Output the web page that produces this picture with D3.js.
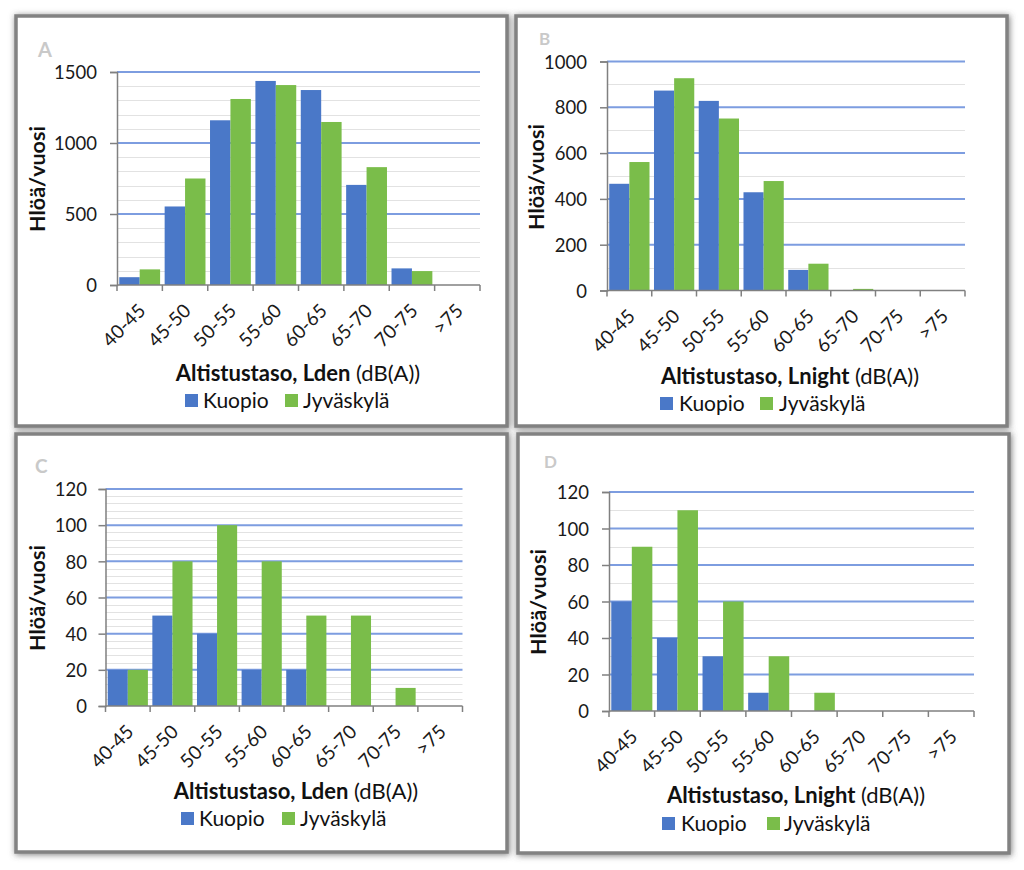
<!DOCTYPE html>
<html>
<head>
<meta charset="utf-8">
<script src="https://cdn.jsdelivr.net/npm/d3@7"></script>
<style>
  html, body { margin: 0; padding: 0; background: #ffffff; }
  svg { display: block; font-family: Lato, "Open Sans", sans-serif; }
</style>
</head>
<body>
<svg id="chart" width="1024" height="870"></svg>
<script>
// ---- data ----
const categories = ["40-45", "45-50", "50-55", "55-60", "60-65", "65-70", "70-75", ">75"];
const seriesNames = ["Kuopio", "Jyväskylä"];

const kuopioA    = [55, 553, 1160, 1437, 1373, 705, 117, 0];
const jyvaskylaA = [110, 750, 1310, 1408, 1148, 830, 98, 0];
const kuopioB    = [466, 873, 828, 429, 90, 0, 0, 0];
const jyvaskylaB = [561, 927, 751, 478, 117, 7, 0, 0];
const kuopioC    = [20, 50, 40, 20, 20, 0, 0, 0];
const jyvaskylaC = [20, 80, 100, 80, 50, 50, 10, 0];
const kuopioD    = [60, 40, 30, 10, 0, 0, 0, 0];
const jyvaskylaD = [90, 110, 60, 30, 10, 0, 0, 0];

const yTicksA = [0, 500, 1000, 1500];
const yTicksB = [0, 200, 400, 600, 800, 1000];
const yTicksC = [0, 20, 40, 60, 80, 100, 120];
const yTicksD = [0, 20, 40, 60, 80, 100, 120];
const minorStepA = 100, minorStepB = 100, minorStepC = 4, minorStepD = 10;

const panelLetters = ["A", "B", "C", "D"];
const xTitleBold = ["Altistustaso, Lden", "Altistustaso, Lnight", "Altistustaso, Lden", "Altistustaso, Lnight"];
const xTitleUnit = " (dB(A))";
const yTitle = "Hlöä/vuosi";

// ---- layout (positions/styles only) ----
const colors = ["#4a78c8", "#7abd4a"];
const panels = [
  { letter: 0, k: kuopioA, j: jyvaskylaA, ticks: yTicksA, minor: minorStepA,
    frame: [16, 16, 491, 410], x0: 117, x1: 480, yTop: 72, yBot: 285,
    letterPos: [38, 57], letterSize: 20, yLabelX: 97, yTitlePos: [38, 179],
    xTitlePos: [298, 381], legendY: 400, legendX: [185, 203, 285, 303] },
  { letter: 1, k: kuopioB, j: jyvaskylaB, ticks: yTicksB, minor: minorStepB,
    frame: [516, 16, 491, 410], x0: 607, x1: 965, yTop: 61.5, yBot: 290.5,
    letterPos: [539, 45], letterSize: 17, yLabelX: 587, yTitlePos: [537, 177],
    xTitlePos: [790, 384], legendY: 403, legendX: [660, 679, 760, 779] },
  { letter: 2, k: kuopioC, j: jyvaskylaC, ticks: yTicksC, minor: minorStepC,
    frame: [16, 434, 491, 418], x0: 105.5, x1: 462.5, yTop: 489, yBot: 706,
    letterPos: [35, 473], letterSize: 19, yLabelX: 87, yTitlePos: [38, 598],
    xTitlePos: [296, 799], legendY: 818, legendX: [181, 199, 282, 300] },
  { letter: 3, k: kuopioD, j: jyvaskylaD, ticks: yTicksD, minor: minorStepD,
    frame: [518, 434, 491, 419], x0: 609, x1: 974, yTop: 492, yBot: 711,
    letterPos: [544, 468], letterSize: 17, yLabelX: 589, yTitlePos: [539, 602],
    xTitlePos: [796, 803], legendY: 823, legendX: [662, 681, 767, 784] }
];

const svg = d3.select("#chart");
const defs = svg.append("defs");
const flt = defs.append("filter").attr("id", "shadow")
  .attr("x", "-5%").attr("y", "-5%").attr("width", "110%").attr("height", "110%");
flt.append("feDropShadow").attr("dx", 1).attr("dy", 1).attr("stdDeviation", 3)
  .attr("flood-color", "#555").attr("flood-opacity", 0.75);

panels.forEach(p => {
  const g = svg.append("g");
  const [fx, fy, fw, fh] = p.frame;
  g.append("rect").attr("x", fx).attr("y", fy).attr("width", fw).attr("height", fh)
    .attr("fill", "#ffffff").attr("stroke", "#828282").attr("stroke-width", 3.5)
    .attr("filter", "url(#shadow)");

  const yMax = d3.max(p.ticks);
  const y = d3.scaleLinear().domain([0, yMax]).range([p.yBot, p.yTop]);
  const x = d3.scaleBand().domain(categories).range([p.x0, p.x1])
    .paddingInner(0.1).paddingOuter(0.05);
  const xs = d3.scaleBand().domain(seriesNames).range([0, x.bandwidth()]).padding(0);

  // minor gridlines
  const minorVals = d3.range(p.minor, yMax, p.minor).filter(v => !p.ticks.includes(v));
  g.append("g").selectAll("line").data(minorVals).join("line")
    .attr("x1", p.x0).attr("x2", p.x1)
    .attr("y1", d => Math.round(y(d)) + 0.5).attr("y2", d => Math.round(y(d)) + 0.5)
    .attr("stroke", "#e2e2e2").attr("stroke-width", 1);

  // major gridlines
  g.append("g").selectAll("line").data(p.ticks.filter(v => v > 0)).join("line")
    .attr("x1", p.x0).attr("x2", p.x1)
    .attr("y1", d => y(d)).attr("y2", d => y(d))
    .attr("stroke", "#7d9de0").attr("stroke-width", 2);

  // bars
  const rows = categories.map((c, i) => ({ c, vals: [p.k[i], p.j[i]] }));
  const grp = g.append("g").selectAll("g").data(rows).join("g")
    .attr("transform", d => `translate(${x(d.c)},0)`);
  grp.selectAll("rect").data(d => d.vals.map((v, si) => ({ v, s: seriesNames[si], si }))).join("rect")
    .attr("x", d => xs(d.s)).attr("width", xs.bandwidth())
    .attr("y", d => y(d.v)).attr("height", d => p.yBot - y(d.v))
    .attr("fill", d => colors[d.si]);

  // y axis
  const yAxis = d3.axisLeft(y).tickValues(p.ticks).tickSize(7).tickPadding(0).tickFormat(d3.format("d"));
  const ya = g.append("g").attr("transform", `translate(${p.x0},0)`).call(yAxis);
  ya.select(".domain").attr("stroke", "#808080").attr("stroke-width", 1.5);
  ya.selectAll(".tick line").attr("stroke", "#808080").attr("stroke-width", 1.5);
  ya.selectAll(".tick text").attr("x", p.yLabelX - p.x0).attr("font-size", 18.5)
    .attr("fill", "#1a1a1a").attr("font-family", "Lato").attr("dy", "0.36em");

  // x axis: baseline + boundary ticks
  g.append("line").attr("x1", p.x0).attr("x2", p.x1).attr("y1", p.yBot).attr("y2", p.yBot)
    .attr("stroke", "#808080").attr("stroke-width", 1.5);
  const bounds = categories.map(c => x(c) - x.step() * x.paddingInner() / 2).concat([p.x1]);
  g.append("g").selectAll("line").data(bounds).join("line")
    .attr("x1", d => d).attr("x2", d => d).attr("y1", p.yBot).attr("y2", p.yBot + 6)
    .attr("stroke", "#808080").attr("stroke-width", 1.5);
  g.append("g").selectAll("text").data(categories).join("text")
    .attr("transform", c => `translate(${x(c) + x.bandwidth() / 2 + 7},${p.yBot + 27}) rotate(-45)`)
    .attr("text-anchor", "end").attr("font-size", 19).attr("fill", "#1a1a1a")
    .text(c => c);

  // panel letter
  g.append("text").attr("x", p.letterPos[0]).attr("y", p.letterPos[1])
    .attr("font-size", p.letterSize).attr("font-weight", "bold").attr("fill", "#c9c9c9")
    .text(panelLetters[p.letter]);

  // y title
  g.append("text")
    .attr("transform", `translate(${p.yTitlePos[0] + 7},${p.yTitlePos[1]}) rotate(-90)`)
    .attr("text-anchor", "middle").attr("font-size", 21.5).attr("font-weight", "bold")
    .attr("fill", "#111").text(yTitle);

  // x title
  const xt = g.append("text").attr("x", p.xTitlePos[0]).attr("y", p.xTitlePos[1])
    .attr("text-anchor", "middle").attr("font-size", 22).attr("fill", "#111");
  xt.append("tspan").attr("font-weight", "bold").text(xTitleBold[p.letter]);
  xt.append("tspan").attr("font-weight", "normal").text(xTitleUnit);

  // legend
  seriesNames.forEach((s, i) => {
    g.append("rect").attr("x", p.legendX[i * 2]).attr("y", p.legendY - 6)
      .attr("width", 13).attr("height", 13).attr("fill", colors[i]);
    g.append("text").attr("x", p.legendX[i * 2 + 1]).attr("y", p.legendY + 8)
      .attr("font-size", 21).attr("fill", "#111").text(s);
  });
});
</script>
</body>
</html>
